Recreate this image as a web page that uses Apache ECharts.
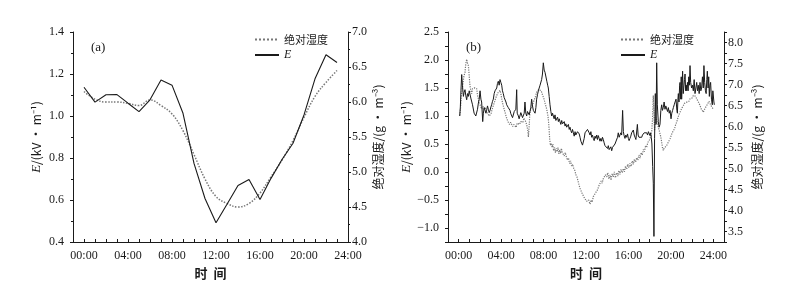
<!DOCTYPE html>
<html>
<head>
<meta charset="utf-8">
<script src="https://cdn.jsdelivr.net/npm/echarts@6/dist/echarts.min.js"></script>
<style>
html,body{margin:0;padding:0;background:#fff}
#main{width:806px;height:286px}
</style>
</head>
<body>
<div id="main"></div>
<script>
// (a) hourly means
var hoursA = [0,1,2,3,4,5,6,7,8,9,10,11,12,13,14,15,16,17,18,19,20,21,22,23]
var eA = [1.137,1.066,1.101,1.102,1.061,1.021,1.077,1.171,1.147,1.013,0.774,0.607,0.492,0.58,0.669,0.698,0.602,0.703,0.793,0.87,1.005,1.177,1.292,1.255]
var humA = [6.15,6.04,6.0,6.0,5.98,5.95,6.03,5.95,5.83,5.59,5.25,4.9,4.65,4.55,4.5,4.55,4.7,4.93,5.17,5.45,5.78,6.08,6.28,6.45]

// (b) one day record, time in hours
var timeEB = [0.10,0.16,0.22,0.29,0.36,0.45,0.52,0.60,0.68,0.76,0.84,0.92,1.00,1.07,1.15,1.23,1.31,1.39,1.46,1.54,1.62,1.70,1.78,1.86,1.94,2.02,2.10,2.17,2.27,2.33,2.41,2.49,2.57,2.64,2.72,2.80,2.88,2.96,3.04,3.11,3.19,3.27,3.35,3.43,3.51,3.59,3.66,3.74,3.82,3.90,3.98,4.06,4.13,4.21,4.29,4.37,4.46,4.53,4.61,4.68,4.76,4.84,4.92,5.00,5.08,5.16,5.24,5.31,5.39,5.47,5.52,5.63,5.70,5.78,5.86,5.94,6.02,6.10,6.18,6.25,6.33,6.41,6.49,6.57,6.65,6.72,6.80,6.88,6.96,7.04,7.12,7.20,7.28,7.35,7.43,7.51,7.59,7.67,7.75,7.82,7.90,7.98,8.06,8.14,8.23,8.31,8.39,8.45,8.53,8.61,8.69,8.77,8.85,8.92,9.00,9.08,9.16,9.24,9.32,9.40,9.48,9.55,9.63,9.71,9.79,9.87,9.95,10.03,10.10,10.18,10.26,10.34,10.42,10.49,10.57,10.65,10.73,10.81,10.89,10.97,11.04,11.12,11.20,11.28,11.36,11.44,11.52,11.59,11.67,11.75,11.83,11.91,11.99,12.06,12.14,12.22,12.30,12.38,12.46,12.53,12.61,12.69,12.77,12.85,12.93,13.01,13.08,13.16,13.24,13.32,13.40,13.48,13.55,13.63,13.71,13.79,13.87,13.95,14.03,14.10,14.18,14.26,14.34,14.42,14.50,14.57,14.65,14.73,14.81,14.89,14.97,15.04,15.12,15.20,15.28,15.36,15.45,15.52,15.59,15.67,15.75,15.83,15.91,15.99,16.06,16.14,16.22,16.30,16.38,16.46,16.54,16.62,16.70,16.78,16.84,16.91,16.99,17.09,17.17,17.25,17.32,17.40,17.48,17.56,17.64,17.72,17.80,17.88,17.95,18.03,18.09,18.15,18.21,18.28,18.34,18.40,18.46,18.53,18.60,18.66,18.72,18.81,18.89,18.97,19.05,19.13,19.20,19.28,19.36,19.44,19.52,19.60,19.68,19.76,19.84,19.92,20.01,20.08,20.16,20.23,20.31,20.39,20.48,20.56,20.61,20.66,20.70,20.76,20.82,20.86,20.92,20.97,21.01,21.06,21.10,21.16,21.23,21.28,21.33,21.39,21.45,21.49,21.56,21.62,21.68,21.74,21.80,21.86,21.95,22.03,22.11,22.19,22.27,22.35,22.43,22.50,22.58,22.66,22.74,22.82,22.89,22.97,23.05,23.11,23.18,23.25,23.32,23.38,23.43,23.50,23.56,23.62,23.68,23.74,23.82,23.90,23.95,23.99,24.05,24.09]
var eB = [1.0,1.15,1.45,1.74,1.55,1.35,1.42,1.47,1.36,1.29,1.4,1.35,1.45,1.47,1.32,1.29,1.2,1.17,1.05,1.08,1.0,1.02,1.12,1.23,1.3,1.45,1.3,1.25,0.9,1.05,1.15,1.12,1.05,1.1,1.18,1.12,1.06,1.1,1.16,1.2,1.26,1.3,1.4,1.45,1.42,1.5,1.58,1.62,1.55,1.65,1.6,1.55,1.45,1.4,1.33,1.3,1.25,1.2,1.22,1.15,1.18,1.1,1.04,1.05,0.97,1.0,1.08,1.05,1.12,1.47,1.05,1.0,0.95,0.98,1.06,1.05,0.97,0.95,1.05,1.25,1.05,1.0,1.08,1.1,1.02,1.05,1.15,1.3,1.18,1.1,1.07,1.05,1.15,1.3,1.38,1.45,1.48,1.55,1.58,1.65,1.75,1.95,1.82,1.78,1.75,1.62,1.55,1.5,1.35,1.2,1.08,1.0,1.05,1.0,0.95,1.02,0.92,0.95,0.98,0.9,0.95,0.9,0.85,0.92,0.86,0.85,0.9,0.82,0.86,0.8,0.78,0.85,0.76,0.8,0.74,0.7,0.76,0.7,0.64,0.72,0.66,0.65,0.72,0.75,0.68,0.62,0.55,0.55,0.48,0.45,0.6,0.7,0.68,0.72,0.76,0.75,0.7,0.66,0.72,0.62,0.66,0.6,0.56,0.64,0.6,0.66,0.58,0.65,0.6,0.55,0.6,0.55,0.62,0.58,0.52,0.47,0.5,0.45,0.42,0.47,0.4,0.4,0.45,0.38,0.44,0.45,0.42,0.5,0.48,0.5,0.62,0.7,0.62,0.65,0.7,0.66,1.1,0.72,0.65,0.6,0.66,0.62,0.68,0.6,0.56,0.6,0.64,0.7,0.72,0.75,0.66,0.62,0.58,0.6,0.85,0.66,0.62,0.6,0.64,0.62,0.66,0.65,0.7,0.68,0.72,0.7,0.66,0.72,0.7,0.65,0.7,0.62,0.5,0.1,-0.2,-1.15,0.6,1.4,0.85,1.95,1.2,0.9,0.8,0.85,1.1,1.2,1.1,1.15,1.25,1.12,1.18,1.2,1.08,1.15,1.05,1.1,0.95,1.05,1.1,1.15,1.2,1.25,1.3,1.1,1.05,1.3,1.4,1.25,1.55,1.6,1.3,1.7,1.3,1.55,1.8,1.4,1.4,1.65,1.75,1.45,1.55,1.45,1.6,1.45,1.7,1.55,1.9,1.6,1.5,1.55,1.45,1.65,1.4,1.5,1.6,1.45,1.55,1.4,1.6,1.45,1.5,1.7,1.5,1.9,1.6,1.45,1.4,1.65,1.8,1.5,1.7,1.35,1.55,1.6,1.3,1.2,1.45,1.45,1.25,1.2]
var timeHB = [0.13,0.22,0.29,0.40,0.50,0.60,0.68,0.76,0.84,0.92,1.00,1.07,1.15,1.23,1.31,1.39,1.50,1.60,1.70,1.78,1.86,1.95,2.05,2.17,2.30,2.40,2.49,2.60,2.70,2.80,2.88,2.96,3.05,3.15,3.27,3.40,3.50,3.59,3.70,3.80,3.90,3.98,4.06,4.15,4.25,4.37,4.50,4.60,4.68,4.80,4.90,5.00,5.10,5.20,5.31,5.42,5.52,5.63,5.75,5.85,5.94,6.05,6.15,6.25,6.35,6.45,6.52,6.57,6.63,6.72,6.85,6.95,7.04,7.15,7.25,7.35,7.45,7.55,7.67,7.78,7.92,8.05,8.15,8.29,8.38,8.45,8.52,8.58,8.65,8.72,8.80,8.88,8.95,9.05,9.12,9.20,9.28,9.36,9.44,9.52,9.60,9.68,9.76,9.85,9.95,10.05,10.15,10.25,10.35,10.45,10.55,10.65,10.75,10.85,10.95,11.05,11.15,11.25,11.35,11.45,11.55,11.65,11.75,11.85,11.95,12.06,12.15,12.25,12.38,12.48,12.58,12.69,12.80,12.90,13.01,13.10,13.20,13.32,13.42,13.52,13.63,13.73,13.83,13.95,14.05,14.15,14.26,14.36,14.46,14.57,14.67,14.77,14.89,15.00,15.10,15.20,15.30,15.42,15.52,15.62,15.72,15.83,15.93,16.04,16.14,16.25,16.36,16.46,16.56,16.67,16.78,16.88,16.99,17.09,17.20,17.30,17.40,17.50,17.62,17.72,17.82,17.92,18.03,18.12,18.20,18.27,18.34,18.40,18.46,18.53,18.60,18.69,18.75,18.81,18.90,18.97,19.05,19.13,19.20,19.28,19.36,19.44,19.52,19.60,19.70,19.80,19.92,20.02,20.12,20.23,20.35,20.45,20.54,20.65,20.75,20.86,20.96,21.06,21.17,21.27,21.38,21.49,21.60,21.70,21.80,21.90,22.00,22.11,22.20,22.32,22.43,22.55,22.65,22.74,22.85,22.95,23.05,23.15,23.25,23.37,23.48,23.58,23.68,23.78,23.88,23.99]
var humB = [6.26,6.6,6.8,7.0,7.2,7.29,7.5,7.6,7.5,7.45,7.2,6.97,6.85,6.78,6.9,6.86,6.92,6.88,6.9,6.75,6.66,6.55,6.5,6.42,6.48,6.4,6.46,6.38,6.32,6.3,6.25,6.22,6.3,6.4,6.5,6.6,6.68,6.74,6.8,6.84,6.86,6.78,6.66,6.55,6.45,6.34,6.22,6.15,6.1,6.05,6.1,6.07,6.0,6.05,6.03,5.98,6.08,6.1,6.05,6.12,6.14,6.1,6.2,6.22,6.1,6.0,5.9,5.75,5.95,6.34,6.45,6.5,6.58,6.65,6.72,6.82,6.85,6.88,6.9,6.85,6.74,6.65,6.55,6.42,6.3,6.18,5.95,5.7,5.55,5.6,5.5,5.58,5.42,5.5,5.38,5.48,5.4,5.5,5.35,5.45,5.36,5.48,5.38,5.42,5.3,5.38,5.28,5.2,5.25,5.12,5.18,5.05,5.1,5.0,4.95,4.85,4.8,4.7,4.6,4.52,4.48,4.4,4.37,4.3,4.28,4.22,4.18,4.25,4.15,4.25,4.2,4.33,4.3,4.42,4.45,4.5,4.58,4.6,4.7,4.65,4.76,4.72,4.85,4.8,4.9,4.75,4.85,4.72,4.88,4.8,4.92,4.78,4.9,4.82,4.95,4.86,4.98,4.9,5.0,4.92,5.05,4.98,5.1,5.02,5.12,5.05,5.18,5.1,5.22,5.15,5.26,5.2,5.32,5.25,5.38,5.32,5.45,5.4,5.55,5.5,5.62,5.58,5.7,5.8,5.9,6.2,6.74,6.3,5.9,6.1,6.22,6.18,6.05,6.03,5.9,5.87,5.75,5.63,5.5,5.43,5.48,5.52,5.5,5.55,5.6,5.65,5.71,5.78,5.85,5.87,5.95,6.05,6.1,6.2,6.28,6.34,6.4,6.45,6.5,6.55,6.52,6.58,6.62,6.6,6.66,6.7,6.68,6.74,6.7,6.72,6.66,6.6,6.55,6.5,6.42,6.38,6.34,6.4,6.45,6.5,6.55,6.6,6.58,6.5,6.45,6.42]

var hourLabelsShown = [0,4,8,12,16,20,24]

function pairs(xs, ys){
	var out = []
	for (var i = 0; i < xs.length; i++) out.push([xs[i], ys[i]])
	return out
}

function hourLabel(v){
	if (hourLabelsShown.indexOf(v) < 0) return ''
	return (v < 10 ? '0' : '') + v + ':00'
}

function halfLabel(v){
	if (Math.abs(v * 2 - Math.round(v * 2)) > 1e-6) return ''
	return (v < 0 ? '\u2212' + (-v).toFixed(1) : v.toFixed(1))
}

var serif = 'Liberation Serif'
var cjk = 'Noto Sans CJK SC'
var black = '#1a1a1a'

function xAxisOf(grid, min, max){
	return {
		type: 'value', gridIndex: grid, min: min, max: max, interval: 1,
		name: '时  间', nameLocation: 'middle', nameGap: 24,
		nameTextStyle: { fontFamily: cjk, fontSize: 13, color: black, fontWeight: 'bold' },
		axisLine: { onZero: false, lineStyle: { color: black, width: 1 } },
		axisTick: { inside: true, length: 3, lineStyle: { color: black } },
		axisLabel: { formatter: hourLabel, fontFamily: serif, fontSize: 12, color: black, margin: 8, showMinLabel: true, showMaxLabel: true },
		splitLine: { show: false }
	}
}

function yAxisOf(grid, pos, min, max, interval, minor, name, gap, fmt){
	return {
		type: 'value', gridIndex: grid, position: pos, min: min, max: max, interval: interval,
		name: name, nameLocation: 'middle', nameGap: gap, nameRotate: 90,
		nameTextStyle: {
			fontFamily: cjk, fontSize: 12, color: black,
			rich: { i: { fontFamily: serif, fontStyle: 'italic', fontSize: 13, color: black } }
		},
		axisLine: { show: true, onZero: false, lineStyle: { color: black, width: 1 } },
		axisTick: { show: true, length: 3, lineStyle: { color: black } },
		minorTick: { show: minor, splitNumber: 2, length: 2, lineStyle: { color: black } },
		axisLabel: { formatter: fmt, fontFamily: serif, fontSize: 12, color: black, margin: pos == 'left' ? 9 : 4 },
		splitLine: { show: false }
	}
}

function legendAt(left){
	return {
		left: left, top: 29, orient: 'vertical', itemWidth: 24, itemHeight: 8, itemGap: 4,
		data: ['绝对湿度', 'E'],
		itemStyle: { opacity: 0 },
		textStyle: { fontFamily: cjk, fontSize: 11, color: black, rich: { i: { fontFamily: serif, fontStyle: 'italic', fontSize: 12, color: black } } },
		formatter: function(n){ return n == 'E' ? '{i|E}' : n }
	}
}

var chart = echarts.init(document.getElementById('main'))

var option = {
	backgroundColor: '#fff',
	animation: false,
	grid: [
		{ left: 73, top: 32, width: 275, height: 210 },
		{ left: 448, top: 32, width: 276, height: 210 }
	],
	xAxis: [
		xAxisOf(0, -1, 24),
		xAxisOf(1, -1, 25)
	],
	yAxis: [
		yAxisOf(0, 'left', 0.4, 1.4, 0.2, true, '{i|E}/(kV · m⁻¹)', 30, function(v){ return v.toFixed(1) }),
		yAxisOf(0, 'right', 4, 7, 0.5, true, '绝对湿度/(g · m⁻³)', 24, function(v){ return v.toFixed(1) }),
		yAxisOf(1, 'left', -1.25, 2.5, 0.25, false, '{i|E}/(kV · m⁻¹)', 30, halfLabel),
		yAxisOf(1, 'right', 3.25, 8.25, 0.25, false, '绝对湿度/(g · m⁻³)', 27, halfLabel)
	],
	legend: [legendAt(249), legendAt(615)],
	graphic: [
		{ type: 'text', left: 91, top: 41, style: { text: '(a)', font: '13px "Liberation Serif"', fill: black } },
		{ type: 'text', left: 466, top: 41, style: { text: '(b)', font: '13px "Liberation Serif"', fill: black } }
	],
	series: [
		{
			name: '绝对湿度', type: 'line', xAxisIndex: 0, yAxisIndex: 1, symbol: 'none', smooth: 0.4,
			lineStyle: { color: '#777', width: 1.5, type: 'dotted' }, itemStyle: { color: '#777' },
			data: pairs(hoursA, humA)
		},
		{
			name: 'E', type: 'line', xAxisIndex: 0, yAxisIndex: 0, symbol: 'none',
			lineStyle: { color: black, width: 1.1 }, itemStyle: { color: black },
			data: pairs(hoursA, eA)
		},
		{
			name: '绝对湿度', type: 'line', xAxisIndex: 1, yAxisIndex: 3, symbol: 'none',
			lineStyle: { color: '#777', width: 1.2, type: 'dotted' }, itemStyle: { color: '#777' },
			data: pairs(timeHB, humB)
		},
		{
			name: 'E', type: 'line', xAxisIndex: 1, yAxisIndex: 2, symbol: 'none',
			lineStyle: { color: black, width: 1 }, itemStyle: { color: black },
			data: pairs(timeEB, eB)
		}
	]
}

chart.setOption(option)
</script>
</body>
</html>
